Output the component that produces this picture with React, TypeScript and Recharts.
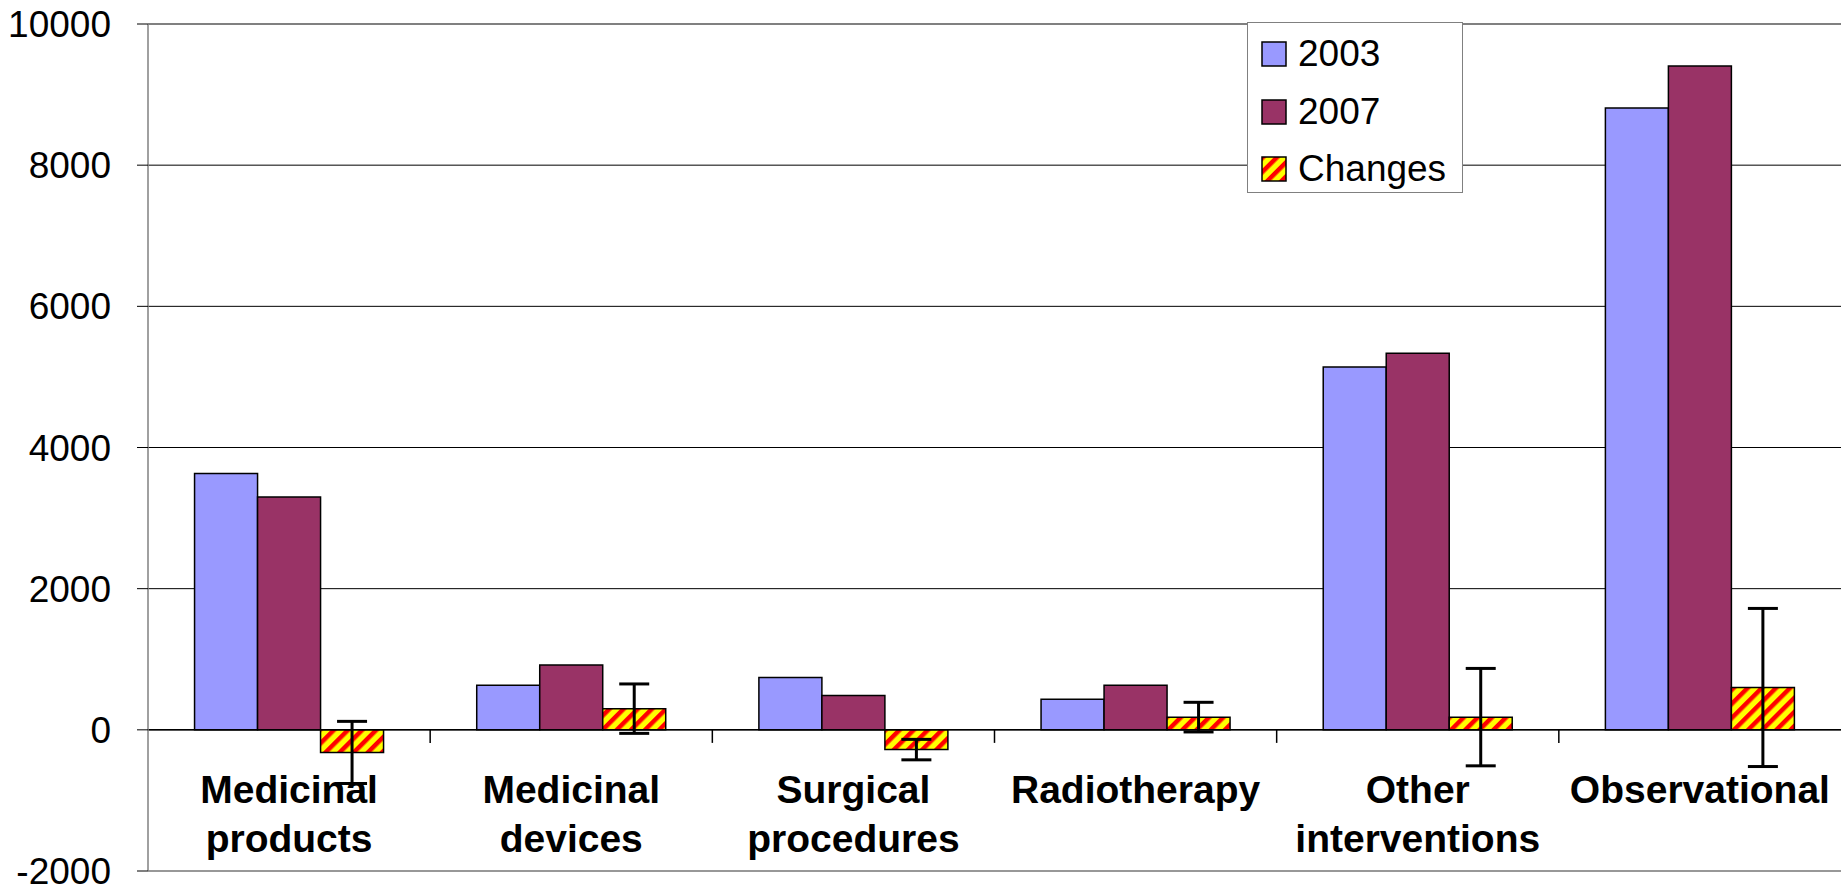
import React from 'react';
import {
  BarChart,
  Bar,
  XAxis,
  YAxis,
  CartesianGrid,
  ReferenceLine,
  ErrorBar,
  Legend,
} from 'recharts';

const categories = [
  'Medicinal products',
  'Medicinal devices',
  'Surgical procedures',
  'Radiotherapy',
  'Other interventions',
  'Observational',
];
const values2003 = [3630, 630, 740, 435, 5140, 8810];
const values2007 = [3300, 920, 485, 630, 5335, 9405];
const changes = [-320, 300, -280, 180, 180, 600];
const changesErr = [440, 350, 145, 210, 690, 1120];
const yTicks = [-2000, 0, 2000, 4000, 6000, 8000, 10000];

const FONT = '"Liberation Sans", Arial, Helvetica, sans-serif';
const BLUE = '#9999ff';
const PURPLE = '#993366';
const PLOT_W = 1693;
const HALF_BAND = PLOT_W / categories.length / 2;

const data = categories.map((name, i) => ({
  name,
  y2003: values2003[i],
  y2007: values2007[i],
  changes: changes[i],
  err: changesErr[i],
}));

const legendItems = [
  { label: '2003', fill: BLUE },
  { label: '2007', fill: PURPLE },
  { label: 'Changes', fill: 'url(#stripes)' },
];

const CategoryTick = (props: any) => {
  const { x, y, payload } = props;
  const lines = String(payload.value).split(' ');
  return (
    <text
      x={x}
      y={y}
      textAnchor="middle"
      fontFamily={FONT}
      fontSize={39}
      fontWeight="bold"
      fill="#000"
    >
      {lines.map((ln, i) => (
        <tspan key={ln} x={x} y={y - 68 + i * 49}>
          {ln}
        </tspan>
      ))}
    </text>
  );
};

// small tick at the right edge of each category, hanging under the zero line
const BoundaryTick = (p: any) => (
  <line
    x1={p.x1 + HALF_BAND}
    x2={p.x2 + HALF_BAND}
    y1={p.y1}
    y2={p.y2}
    stroke="#000"
    strokeWidth={1.5}
  />
);

const LegendBox = () => (
  <div
    style={{
      width: 216,
      height: 171,
      boxSizing: 'border-box',
      border: '1.5px solid #808080',
      background: '#fff',
      position: 'relative',
      fontFamily: FONT,
      fontSize: 37,
      color: '#000',
    }}
  >
    {legendItems.map((it, i) => (
      <div
        key={it.label}
        style={{
          position: 'absolute',
          left: 13,
          top: 31 + i * 57.5 - 22,
          height: 44,
          display: 'flex',
          alignItems: 'center',
          whiteSpace: 'nowrap',
        }}
      >
        <svg width={26} height={26} style={{ marginRight: 11 }}>
          <rect x={1} y={1} width={24} height={24} fill={it.fill} stroke="#000" strokeWidth={1.5} />
        </svg>
        <span>{it.label}</span>
      </div>
    ))}
  </div>
);

export default function App() {
  return (
    <div style={{ width: 1841, height: 891, position: 'relative', background: '#fff' }}>
      <style>{'body{margin:0;}'}</style>
      <svg width={0} height={0} style={{ position: 'absolute' }}>
        <defs>
          <pattern
            id="stripes"
            patternUnits="userSpaceOnUse"
            width={10}
            height={10}
            patternTransform="rotate(45)"
          >
            <rect x={0} y={0} width={10} height={10} fill="#ffff00" />
            <rect x={0} y={0} width={4.5} height={10} fill="#ff0000" />
          </pattern>
        </defs>
      </svg>
      <BarChart
        width={1841}
        height={891}
        data={data}
        margin={{ top: 24, right: 0, bottom: 19, left: 0 }}
        barCategoryGap="16.5%"
        barGap={0}
      >
        <CartesianGrid horizontal vertical={false} stroke="#000" strokeWidth={1} />
        <XAxis
          dataKey="name"
          height={1}
          axisLine={false}
          tickLine={false}
          tickSize={0}
          tickMargin={0}
          interval={0}
          tick={<CategoryTick />}
        />
        <YAxis
          width={148}
          domain={[-2000, 10000]}
          ticks={yTicks}
          interval={0}
          allowDataOverflow
          axisLine={{ stroke: '#808080', strokeWidth: 1.5 }}
          tickLine={{ stroke: '#000', strokeWidth: 1 }}
          tickSize={11}
          tickMargin={26}
          tick={{ fill: '#000', fontSize: 37, fontFamily: FONT }}
        />
        <ReferenceLine y={10000} stroke="#808080" strokeWidth={1.5} />
        <ReferenceLine y={-2000} stroke="#a0a0a0" strokeWidth={1.5} />
        <Legend
          layout="vertical"
          align="center"
          verticalAlign="middle"
          content={<LegendBox />}
          wrapperStyle={{ position: 'absolute', left: 1247, top: 22, width: 216, height: 171 }}
        />
        <Bar dataKey="y2003" name="2003" fill={BLUE} stroke="#000" strokeWidth={1.5} isAnimationActive={false} />
        <Bar dataKey="y2007" name="2007" fill={PURPLE} stroke="#000" strokeWidth={1.5} isAnimationActive={false} />
        <Bar
          dataKey="changes"
          name="Changes"
          fill="url(#stripes)"
          stroke="#000"
          strokeWidth={1.5}
          isAnimationActive={false}
        >
          <ErrorBar
            dataKey="err"
            width={15}
            strokeWidth={3}
            stroke="#000"
            direction="y"
            isAnimationActive={false}
          />
        </Bar>
        <ReferenceLine y={0} stroke="#000" strokeWidth={1.5} />
        {categories.slice(0, -1).map((c) => (
          <ReferenceLine
            key={c}
            segment={[
              { x: c, y: 0 },
              { x: c, y: -185 },
            ]}
            shape={<BoundaryTick />}
          />
        ))}
      </BarChart>
    </div>
  );
}
